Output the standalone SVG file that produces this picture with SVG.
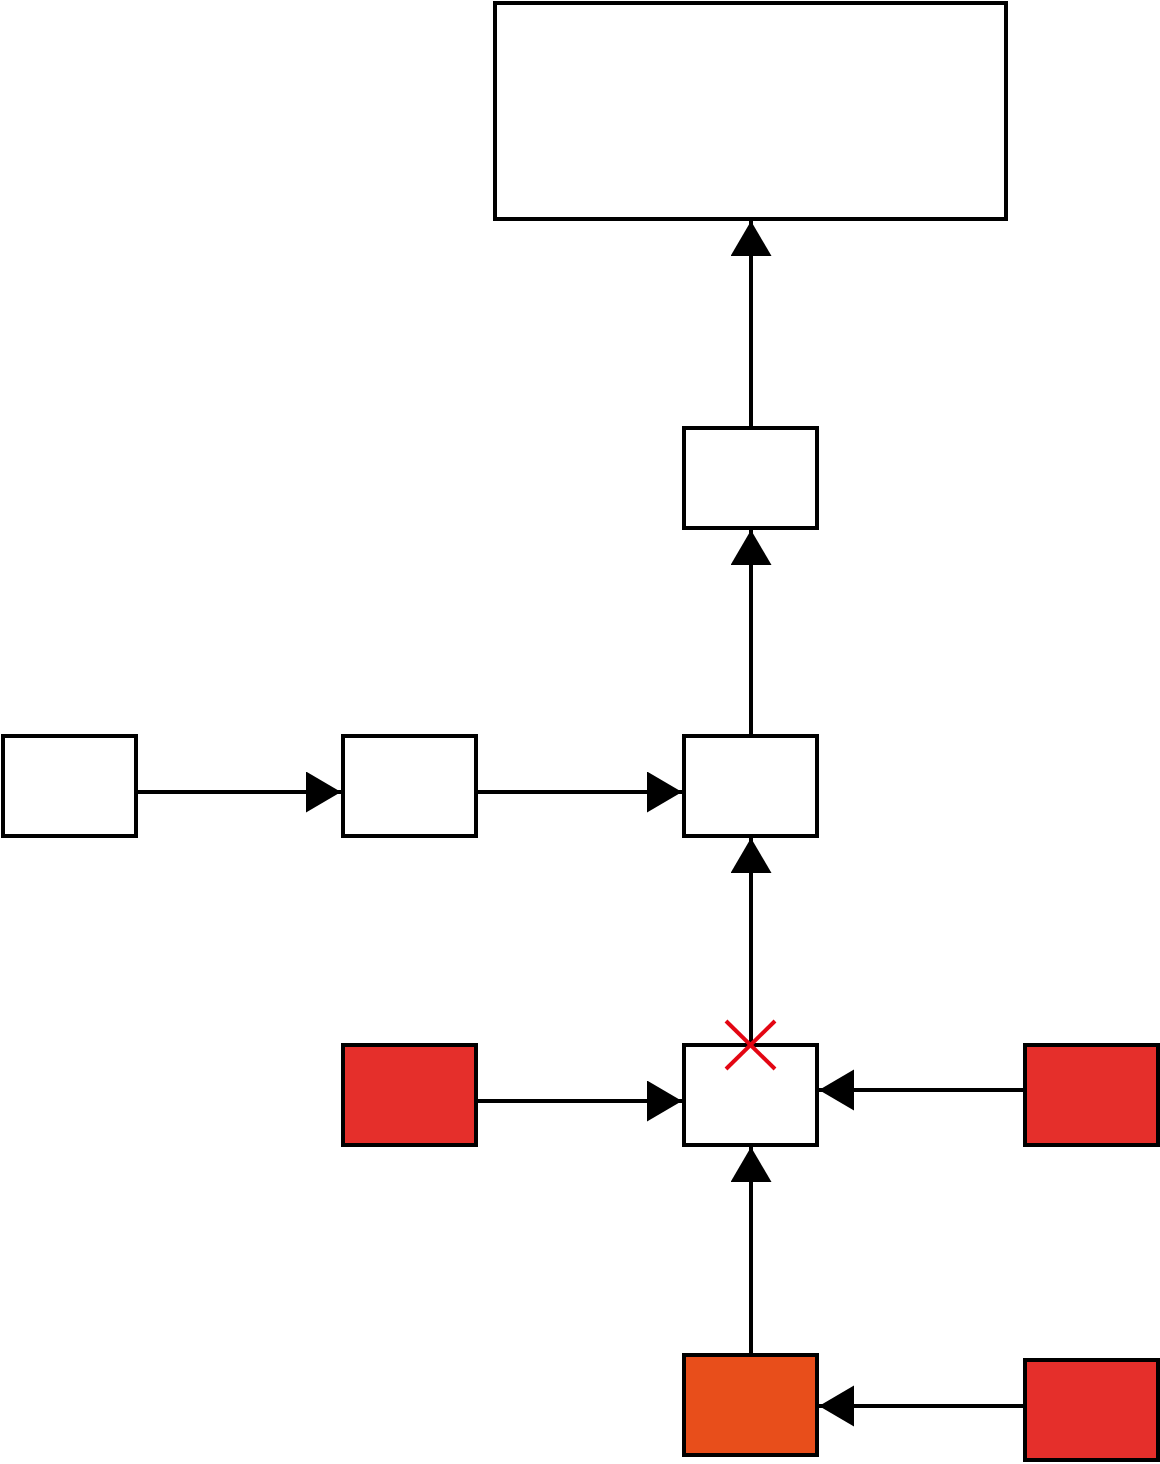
<svg xmlns="http://www.w3.org/2000/svg" width="1160" height="1464" viewBox="0 0 1160 1464">
<defs>
<style>
.n{fill:#fff;stroke:#000;stroke-width:4}
.r{fill:#e52f2b;stroke:#000;stroke-width:4}
.o{fill:#e84e1b;stroke:#000;stroke-width:4}
.c{stroke:#000;stroke-width:4;fill:none}
.x{stroke:#e30613;stroke-width:4}
</style>
<marker id="a" markerUnits="userSpaceOnUse" markerWidth="36" markerHeight="42" refX="35" refY="20.5" orient="auto">
<path d="M0,0 L35,20.5 L0,41 Z" fill="#000"/>
</marker>
</defs>
<g id="connectors">
<line class="c" x1="751" y1="427" x2="751" y2="221" marker-end="url(#a)"/>
<line class="c" x1="751" y1="736" x2="751" y2="530" marker-end="url(#a)"/>
<line class="c" x1="136" y1="792" x2="341" y2="792" marker-end="url(#a)"/>
<line class="c" x1="476" y1="792" x2="682" y2="792" marker-end="url(#a)"/>
<line class="c" x1="751" y1="1045" x2="751" y2="838" marker-end="url(#a)"/>
<line class="c" x1="476" y1="1101" x2="682" y2="1101" marker-end="url(#a)"/>
<line class="c" x1="1025" y1="1090" x2="819" y2="1090" marker-end="url(#a)"/>
<line class="c" x1="751" y1="1355" x2="751" y2="1147" marker-end="url(#a)"/>
<line class="c" x1="1025" y1="1406" x2="819" y2="1406" marker-end="url(#a)"/>
</g>
<g id="top"><rect class="n" x="495" y="3" width="511" height="216"/></g>
<g id="b1"><rect class="n" x="684" y="428" width="133" height="100"/></g>
<g id="r1"><rect class="n" x="3" y="736" width="133" height="100"/></g>
<g id="r2"><rect class="n" x="343" y="736" width="133" height="100"/></g>
<g id="r3"><rect class="n" x="684" y="736" width="133" height="100"/></g>
<g id="mid"><rect class="n" x="684" y="1045" width="133" height="100"/></g>
<g id="redL"><rect class="r" x="343" y="1045" width="133" height="100"/></g>
<g id="redR"><rect class="r" x="1025" y="1045" width="133" height="100"/></g>
<g id="orange"><rect class="o" x="684" y="1355" width="133" height="100"/></g>
<g id="redB"><rect class="r" x="1025" y="1360" width="133" height="100"/></g>
<g id="cross">
<line class="x" x1="726" y1="1021" x2="775" y2="1069"/>
<line class="x" x1="775" y1="1021" x2="726" y2="1069"/>
</g>
</svg>
